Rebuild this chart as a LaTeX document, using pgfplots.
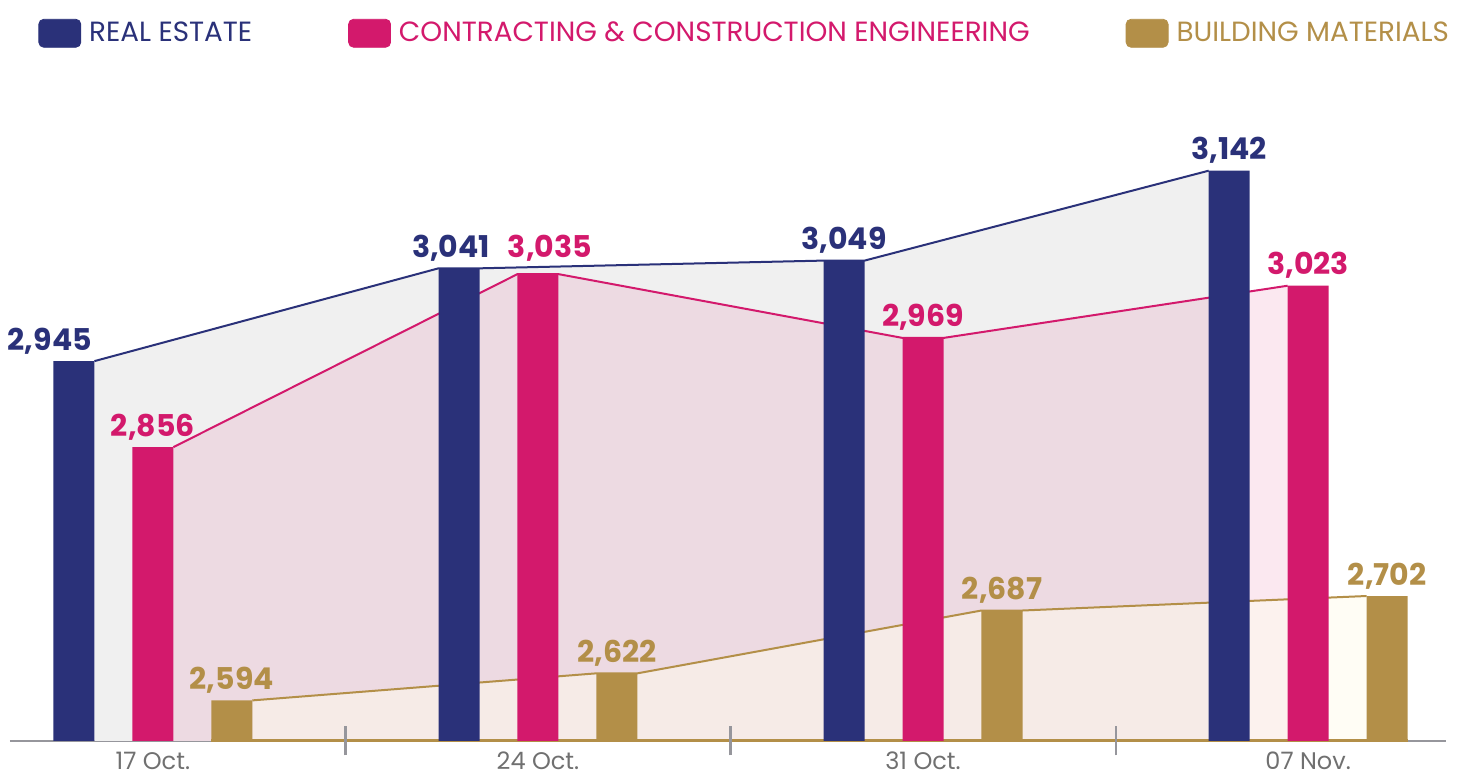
\documentclass[border=0pt]{standalone}
\usepackage{fontspec}
\setmainfont{Poppins}
\usepackage{pgfplots}
\pgfplotsset{compat=1.18}
\definecolor{navy}{RGB}{42,49,121}
\definecolor{rose}{RGB}{211,25,108}
\definecolor{gold}{RGB}{179,143,72}
\definecolor{fillgray}{RGB}{240,240,240}
\definecolor{cream}{RGB}{255,252,236}
\definecolor{axgray}{RGB}{150,150,156}
\definecolor{lblgray}{RGB}{112,112,112}

\begin{document}
\begin{tikzpicture}
\begin{axis}[
  scale only axis, width=718pt, height=304pt,
  xmin=-0.371, xmax=3.358, ymin=2552, ymax=3181,
  axis y line=none,
  axis x line*=bottom,
  axis line style={draw=none},
  axis on top,
  clip=false,
  xtick={0,1,2,3},
  xticklabels={17 Oct.,24 Oct.,31 Oct.,07 Nov.},
  xtick align=center,
  major tick length=0pt,
  extra x ticks={0.5,1.5,2.5},
  extra x tick labels={},
  extra x tick style={major tick length=14.5pt, tick style={axgray, line width=1.1pt}},
  xticklabel style={font=\fontsize{12}{14}\selectfont, text=lblgray, yshift=-2pt},
  bar width=0.1065,
  /pgf/number format/assume math mode=true,
  /pgf/number format/1000 sep={,},
  nodes near coords style={font=\bfseries\fontsize{15}{16}\selectfont},
  legend columns=3,
  legend image code/.code={\fill[#1, rounded corners=2.5pt] (0pt,-7pt) rectangle (21pt,7pt);},
  legend style={at={(axis description cs:0.0195,1.19)}, anchor=north west,
    draw=none, fill=none, inner sep=0pt,
    font=\fontsize{13.9}{15}\selectfont,
    /tikz/every odd column/.append style={column sep=2pt},
    /tikz/every even column/.append style={column sep=46pt}},
  legend cell align=left,
]
% axis base line
\addplot[axgray, line width=1.1pt, forget plot] coordinates {(-0.371,2552) (3.358,2552)};
% areas
\addplot[draw=none, fill=fillgray, forget plot] coordinates {
 (-0.15175,2552) (-0.15175,2945) (0.74175,3041) (0.84825,3041) (1.74175,3049) (1.84825,3049) (2.74175,3142) (2.74175,2552)} -- cycle;
\addplot[draw=none, fill=rose, fill opacity=0.1, forget plot] coordinates {
 (0.05325,2552) (0.05325,2856) (0.94675,3035) (1.05325,3035) (1.94675,2969) (2.05325,2969) (2.94675,3023) (2.94675,2552)} -- cycle;
\addplot[draw=none, fill=cream, fill opacity=0.5, forget plot] coordinates {
 (0.25825,2552) (0.25825,2594) (1.15175,2622) (1.25825,2622) (2.15175,2687) (2.25825,2687) (3.15175,2702) (3.15175,2552)} -- cycle;
\addplot[gold, line width=1.5pt, forget plot] coordinates {(0.15175,2552) (3.25825,2552)};
% lines
\addplot[navy, line width=1pt, forget plot] coordinates {
 (-0.15175,2945) (0.74175,3041) (0.84825,3041) (1.74175,3049) (1.84825,3049) (2.74175,3142)};
\addplot[rose, line width=1pt, forget plot] coordinates {
 (0.05325,2856) (0.94675,3035) (1.05325,3035) (1.94675,2969) (2.05325,2969) (2.94675,3023)};
\addplot[gold, line width=1pt, forget plot] coordinates {
 (0.25825,2594) (1.15175,2622) (1.25825,2622) (2.15175,2687) (2.25825,2687) (3.15175,2702)};
% bars
\addplot[ybar, bar shift=-0.205, fill=navy, draw=none, forget plot,
  nodes near coords, visualization depends on={value \thisrow{dx} \as \dx},
  every node near coord/.append style={text=navy, xshift=\dx}] table {
x y dx
0 2945 -51.5pt
1 3041 -43.5pt
2 3049 -39.5pt
3 3142 -39.5pt
};
\addplot[ybar, bar shift=0, fill=rose, draw=none, forget plot,
  nodes near coords, visualization depends on={value \thisrow{dx} \as \dx},
  visualization depends on={value \thisrow{dy} \as \dy},
  every node near coord/.append style={text=rose, xshift=\dx, yshift=\dy}] table {
x y dx dy
0 2856 0pt 0pt
1 3035 6pt 3pt
2 2969 0pt 0pt
3 3023 0pt 0pt
};
\addplot[ybar, bar shift=0.205, fill=gold, draw=none, forget plot,
  nodes near coords, every node near coord/.append style={text=gold, xshift=39.5pt}] coordinates {
 (0,2594) (1,2622) (2,2687) (3,2702)};
\coordinate (bbSW) at (rel axis cs:0,0);
\coordinate (bbNE) at (rel axis cs:1,1);
% legend
\addlegendimage{navy}
\addlegendentry{\textcolor{navy}{REAL ESTATE}}
\addlegendimage{rose}
\addlegendentry{\textcolor{rose}{CONTRACTING \& CONSTRUCTION ENGINEERING}}
\addlegendimage{gold}
\addlegendentry{\textcolor{gold}{BUILDING MATERIALS}}
\end{axis}
\pgfresetboundingbox
\useasboundingbox ([xshift=-5pt,yshift=-18.5pt]bbSW) rectangle ([xshift=10pt,yshift=66.5pt]bbNE);
\end{tikzpicture}
\end{document}
